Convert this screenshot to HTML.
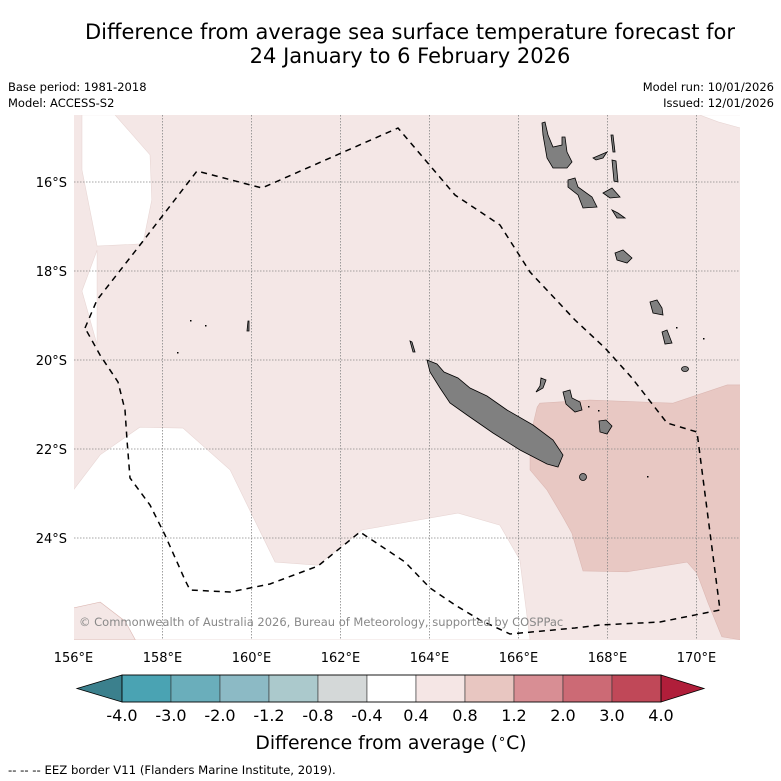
<!DOCTYPE html>
<html><head><meta charset="utf-8">
<style>
html,body{margin:0;padding:0;background:#fff;}
svg{display:block;font-family:"DejaVu Sans","Liberation Sans",sans-serif;}
</style></head>
<body>
<svg id="chart" width="781" height="781" viewBox="0 0 781 781" xmlns="http://www.w3.org/2000/svg">
<rect x="0" y="0" width="781" height="781" fill="#ffffff"/>
<text x="410" y="39" font-size="21" text-anchor="middle" fill="#000">Difference from average sea surface temperature forecast for</text>
<text x="410" y="63" font-size="21" text-anchor="middle" fill="#000">24 January to 6 February 2026</text>
<text x="8" y="91" font-size="11.5">Base period: 1981-2018</text>
<text x="8" y="107" font-size="11.5">Model: ACCESS-S2</text>
<text x="774" y="91" font-size="11.5" text-anchor="end">Model run: 10/01/2026</text>
<text x="774" y="107" font-size="11.5" text-anchor="end">Issued: 12/01/2026</text>
<defs><clipPath id="mapclip"><rect x="74" y="115" width="666" height="525"/></clipPath></defs>
<g id="map" clip-path="url(#mapclip)">
<rect x="74" y="115" width="666" height="525" fill="#f4e7e6"/>
<g id="shading"></g>
<g id="grid"></g>
<g fill="none" stroke="#000" stroke-width="1.5" stroke-dasharray="6,5">
<path d="M85,328 L97,300 L140,245 L197,171 L262,188 L398,128 L455,195 L500,225 L530,272 L575,320 L605,348 L632,378 L667,423 L697,432 L720,610 L660,622 L600,625 L575,628 L510,634 L480,620 L455,605 L430,588 L405,562 L360,532 L318,566 L270,584 L230,592 L190,590 L185,580 L165,535 L150,505 L130,478 L127,440 L125,410 L118,382 L100,355 Z"/>
</g>
<g fill="#808080" stroke="#000" stroke-width="0.8">
<path d="M427,360 L437,364 L444,372 L458,378 L470,388 L487,396 L507,410 L533,425 L553,440 L563,455 L558,467 L547,464 L520,450 L493,433 L467,415 L450,403 L440,388 L430,372 Z"/>
<path d="M541,378 L546,380 L543,388 L536,392 L540,386 Z"/>
<path d="M563,392 L570,390 L572,398 L580,402 L582,410 L575,412 L566,404 Z"/>
<path d="M599,421 L606,420 L612,426 L607,434 L600,432 Z"/>
<ellipse cx="583" cy="477" rx="3.5" ry="3.5"/>
<path d="M410,341 L412,342 L415,352 L413,352 Z"/>
<path d="M248,321 L249,321 L249,331 L247,331 Z"/>
<path d="M542,123 L545,122 L548,135 L553,147 L562,145 L562,137 L565,137 L567,152 L572,162 L567,168 L553,168 L547,158 L543,135 Z"/>
<path d="M568,180 L575,178 L578,187 L592,197 L597,207 L583,208 L578,195 L568,187 Z"/>
<path d="M593,158 L607,152 L603,158 L596,160 Z"/>
<path d="M611,135 L613,135 L615,152 L613,152 Z"/>
<path d="M612,160 L616,161 L618,182 L614,181 Z"/>
<path d="M603,193 L612,188 L620,197 L610,198 Z"/>
<path d="M612,210 L618,213 L625,218 L617,218 Z"/>
<path d="M615,253 L623,250 L632,258 L627,263 L617,260 Z"/>
<path d="M650,302 L657,300 L662,308 L663,315 L653,313 Z"/>
<path d="M662,332 L667,330 L672,343 L665,344 Z"/>
<ellipse cx="685" cy="369" rx="3.5" ry="2.5"/>
</g>
<g fill="#000">
<rect x="190" y="320" width="1.5" height="1.5"/><rect x="205" y="325" width="1.5" height="1.5"/><rect x="177" y="352" width="1.5" height="1.5"/>
<rect x="676" y="327" width="1.5" height="1.5"/><rect x="703" y="338" width="1.5" height="1.5"/><rect x="647" y="476" width="1.5" height="1.5"/>
<rect x="598" y="410" width="1.5" height="1.5"/><rect x="588" y="406" width="1.5" height="1.5"/>
</g>
<text x="79" y="626" font-size="11.5" fill="#888">© Commonwealth of Australia 2026, Bureau of Meteorology, supported by COSPPac</text>
</g>
<g id="axes"></g>
<g id="colorbar"></g>
<text x="391" y="749" font-size="18.8" text-anchor="middle">Difference from average (<tspan font-size="13" dy="-6">∘</tspan><tspan dy="6">C)</tspan></text>
<text x="8" y="774" font-size="11.7">--  --  -- EEZ border V11 (Flanders Marine Institute, 2019).</text>
</svg>
<script>
// Map axes (degrees)
const lonTicks = [156, 158, 160, 162, 164, 166, 168, 170];
const latTicks = [16, 18, 20, 22, 24];
// Colorbar data
const cbLevels = ["-4.0","-3.0","-2.0","-1.2","-0.8","-0.4","0.4","0.8","1.2","2.0","3.0","4.0"];
const cbColors = ["#4aa3b3","#6aaebb","#8cbac5","#abc9cc","#d4d8d8","#ffffff","#f5e6e5","#e8c6c1","#d88e94","#cc6a75","#c04858"];
const cbUnder = "#3b808d";
const cbOver = "#b01e3a";
// Forecast contour regions [lon E, lat S]
const whiteTopLeft = [[156.19,14.49],[156.93,14.49],[157.72,15.39],[157.76,16.4],[157.56,17.39],[156.53,17.44],[156.19,15.73]];
const whiteLeft = [[156.53,17.53],[156.19,18.45],[156.53,19.66]];
const whiteBottomLeft = [[156.0,22.92],[156.6,22.13],[157.49,21.51],[158.46,21.53],[159.52,22.47],[160.53,24.54],[161.49,24.61],[162.48,23.82],[164.64,23.44],[165.58,23.71],[166.03,24.49],[166.26,26.29],[156.0,26.29]];
const pinkSliver = [[156.0,25.57],[156.6,25.44],[157.16,25.87],[157.39,26.29],[156.0,26.29]];
const whiteTopRight = [[170.06,14.49],[171.0,14.49],[171.0,14.79],[170.49,14.65]];
const warmRegion = [[166.48,20.97],[167.6,20.9],[169.47,20.97],[170.69,20.56],[171.0,20.56],[171.0,26.29],[170.57,26.22],[170.26,25.46],[170.01,24.79],[169.79,24.54],[168.44,24.76],[167.45,24.74],[167.2,23.89],[167.0,23.53],[166.64,22.92],[166.26,22.47],[166.26,21.73],[166.42,21.06]];

const NS = "http://www.w3.org/2000/svg";
const X = lon => 73.5 + (lon - 156) * 44.5;
const Y = lat => 182 + (lat - 16) * 44.5;
function mk(tag, attrs, parent) {
  const e = document.createElementNS(NS, tag);
  for (const k in attrs) e.setAttribute(k, attrs[k]);
  parent.appendChild(e);
  return e;
}
const shading = document.getElementById("shading");
function poly(pts, fill, name) {
  const p = mk("polygon", {points: pts.map(q => X(q[0]) + "," + Y(q[1])).join(" "), fill: fill, stroke: fill === "#ffffff" ? "#e8d6d4" : "#dcb8b3", "stroke-width": 0.6}, shading);
  
  
}
poly(whiteTopLeft, "#ffffff", "neutral-region-northwest");
poly(whiteLeft, "#ffffff", "neutral-region-west");
poly(whiteBottomLeft, "#ffffff", "neutral-region-southwest");
poly(pinkSliver, "#f4e7e6", "warm-sliver-southwest");
poly(whiteTopRight, "#ffffff", "neutral-region-northeast");
poly(warmRegion, "#e8c8c3", "warm-region-southeast");

const grid = document.getElementById("grid");
const axes = document.getElementById("axes");
lonTicks.forEach(lon => {
  const x = X(lon);
  if (lon > 156) {
    const l = mk("line", {x1: x, x2: x, y1: 115, y2: 640, stroke: "#888", "stroke-width": 0.8, "stroke-dasharray": "1.5,1.5"}, grid);
    
    
  }
  const t = mk("text", {x: x, y: 662, "font-size": 13, "text-anchor": "middle"}, axes);
  t.textContent = lon + "°E";
  
  
});
latTicks.forEach(lat => {
  const y = Y(lat);
  const l = mk("line", {x1: 74, x2: 740, y1: y, y2: y, stroke: "#888", "stroke-width": 0.8, "stroke-dasharray": "1.5,1.5"}, grid);
  
  
  const t = mk("text", {x: 67, y: y + 5, "font-size": 13, "text-anchor": "end"}, axes);
  t.textContent = lat + "°S";
  
  
});

const cb = document.getElementById("colorbar");
const cbX0 = 122, cbX1 = 661, cbY = 675, cbH = 27;
const bw = (cbX1 - cbX0) / cbColors.length;
const under = mk("polygon", {points: `${cbX0},${cbY} ${cbX0},${cbY+cbH} 77,${cbY+cbH/2}`, fill: cbUnder, stroke: "#000", "stroke-width": 0.8}, cb);


const over = mk("polygon", {points: `${cbX1},${cbY} ${cbX1},${cbY+cbH} 704,${cbY+cbH/2}`, fill: cbOver, stroke: "#000", "stroke-width": 0.8}, cb);


cbColors.forEach((c, i) => {
  const r = mk("rect", {x: cbX0 + i * bw, y: cbY, width: bw, height: cbH, fill: c, stroke: "#333", "stroke-width": 0.6}, cb);
  
  
});
cbLevels.forEach((lv, i) => {
  const t = mk("text", {x: cbX0 + i * bw, y: 721, "font-size": 16, "text-anchor": "middle"}, cb);
  t.textContent = lv;
  
  
});
mk("rect", {x: cbX0, y: cbY, width: cbX1 - cbX0, height: cbH, fill: "none", stroke: "#000", "stroke-width": 0.8}, cb);
</script>
</body></html>
